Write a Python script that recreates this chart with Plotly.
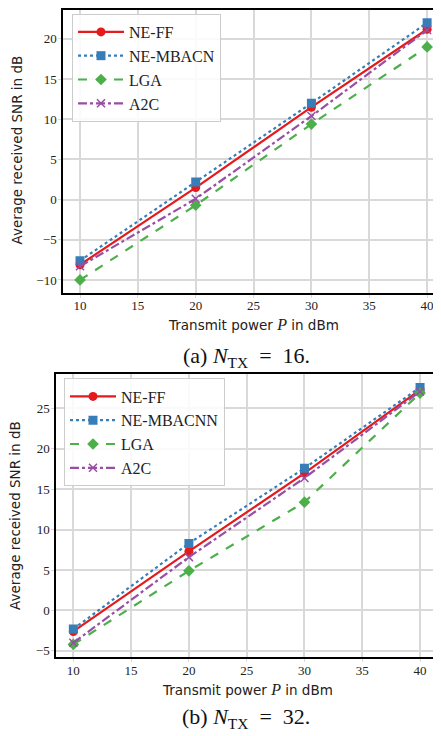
import plotly.graph_objects as go

# ---- data ----
power_dbm = [10, 20, 30, 40]

# (a) N_TX = 16
a_ne_ff = [-8.1, 1.5, 11.5, 21.2]
a_ne_mbacn = [-7.6, 2.2, 12.0, 22.0]
a_lga = [-10.0, -0.7, 9.4, 19.0]
a_a2c = [-8.3, 0.1, 10.4, 21.1]

# (b) N_TX = 32
b_ne_ff = [-2.6, 7.3, 17.0, 27.3]
b_ne_mbacnn = [-2.3, 8.3, 17.6, 27.6]
b_lga = [-4.2, 4.9, 13.4, 26.9]
b_a2c = [-4.0, 6.6, 16.4, 27.1]

names_a = ["NE-FF", "NE-MBACN", "LGA", "A2C"]
names_b = ["NE-FF", "NE-MBACNN", "LGA", "A2C"]
x_ticks = [10, 15, 20, 25, 30, 35, 40]
y_ticks_a = [-10, -5, 0, 5, 10, 15, 20]
y_ticks_b = [-5, 0, 5, 10, 15, 20, 25]

colors = ["#e41a1c", "#377eb8", "#4daf4a", "#984ea3"]
dashes = ["solid", "dot", "dash", "dashdot"]
symbols = ["circle", "square", "diamond", "x-thin"]

# page is offset by the default 8px body margin
OFF = 8
PAGE_W, PAGE_H = 441, 736
W, H = PAGE_W - OFF, PAGE_H - OFF
SERIF = "Liberation Serif"
SANS = "DejaVu Sans"

fig = go.Figure()

def add_series(ys_list, names, xa, ya, legend):
    for i, (ys, nm) in enumerate(zip(ys_list, names)):
        sym = symbols[i]
        marker = dict(symbol=sym, size=9 if sym != "x-thin" else 8, color=colors[i])
        if sym == "x-thin":
            marker["line"] = dict(width=1.5, color=colors[i])
        else:
            marker["line"] = dict(width=0)
        fig.add_trace(go.Scatter(
            x=power_dbm, y=ys, name=nm, mode="lines+markers",
            line=dict(color=colors[i], width=2.2, dash=dashes[i]),
            marker=marker, xaxis=xa, yaxis=ya, legend=legend,
        ))

add_series([a_ne_ff, a_ne_mbacn, a_lga, a_a2c], names_a, "x", "y", "legend")
add_series([b_ne_ff, b_ne_mbacnn, b_lga, b_a2c], names_b, "x2", "y2", "legend2")

def px_x(p):
    return min(max((p - OFF) / W, 0), 1)

def px_y(p):
    return min(max(1 - (p - OFF) / H, 0), 1)

def minus(v):
    return ("−" + str(-v)) if v < 0 else str(v)

grid = "#d9d9d9"
tickfont = dict(family=SERIF, size=13, color="#222")
common_x = dict(tickvals=x_ticks, showgrid=True, gridcolor=grid, gridwidth=1.5,
                zeroline=False, showline=True, linecolor="black", linewidth=1.5,
                ticks="outside", ticklen=3, tickcolor=grid, tickwidth=1,
                tickfont=tickfont, ticklabelstandoff=-3)
common_y = dict(showgrid=True, gridcolor=grid, gridwidth=1.5,
                zeroline=False, showline=True, linecolor="black", linewidth=1.5,
                ticks="outside", ticklen=3, tickcolor=grid, tickwidth=1,
                tickfont=tickfont, ticklabelstandoff=-1, tickmode="array")

legend_style = dict(xanchor="left", yanchor="top", itemwidth=46,
                    bgcolor="rgba(255,255,255,0.85)", bordercolor="#cccccc", borderwidth=1,
                    font=dict(family=SERIF, size=16, color="#222"))

fig.update_layout(
    width=W, height=H,
    margin=dict(l=0, r=0, t=0, b=0),
    paper_bgcolor="white", plot_bgcolor="white",
    xaxis=dict(domain=[px_x(63), 1.0], range=[8.53, 41.2], anchor="y", mirror=True, **common_x),
    yaxis=dict(domain=[px_y(292), px_y(8)], range=[-11.6, 23.6], anchor="x", tickvals=y_ticks_a,
               ticktext=[minus(v) for v in y_ticks_a], mirror=False, **common_y),
    xaxis2=dict(domain=[px_x(56), px_x(437.4)], range=[8.5, 41.5], anchor="y2", mirror=True, **common_x),
    yaxis2=dict(domain=[px_y(658), px_y(374)], range=[-5.8, 29.2], anchor="x2", tickvals=y_ticks_b,
                ticktext=[minus(v) for v in y_ticks_b], mirror=True, **common_y),
    legend=dict(x=px_x(72), y=px_y(12), **legend_style),
    legend2=dict(x=px_x(64), y=px_y(378), **legend_style),
    showlegend=True,
)

ytitle = "Average received SNR in dB"
xtitle = "Transmit power <i style=\"font-family:'Liberation Serif';font-size:16px\">P</i> in dBm"
labfont = dict(family=SANS, size=13.5, color="#222")
ann = []
ann.append(dict(text=ytitle, x=px_x(17), y=px_y(149), textangle=-90, showarrow=False,
                xref="paper", yref="paper", xanchor="center", yanchor="middle", font=labfont))
ann.append(dict(text=ytitle, x=px_x(15), y=px_y(516), textangle=-90, showarrow=False,
                xref="paper", yref="paper", xanchor="center", yanchor="middle", font=labfont))
ann.append(dict(text=xtitle, x=px_x(253), y=px_y(324), showarrow=False,
                xref="paper", yref="paper", xanchor="center", yanchor="middle", font=labfont))
ann.append(dict(text=xtitle, x=px_x(247), y=px_y(690), showarrow=False,
                xref="paper", yref="paper", xanchor="center", yanchor="middle", font=labfont))
capfont = dict(family=SERIF, size=22, color="#111")
ann.append(dict(text="(a) <i>N</i><sub>TX</sub>&nbsp; = &nbsp;16.", x=px_x(246), y=px_y(356), showarrow=False,
                xref="paper", yref="paper", xanchor="center", yanchor="middle", font=capfont))
ann.append(dict(text="(b) <i>N</i><sub>TX</sub>&nbsp; = &nbsp;32.", x=px_x(246), y=px_y(719), showarrow=False,
                xref="paper", yref="paper", xanchor="center", yanchor="middle", font=capfont))
fig.update_layout(annotations=ann)

fig.write_html("out.html")
